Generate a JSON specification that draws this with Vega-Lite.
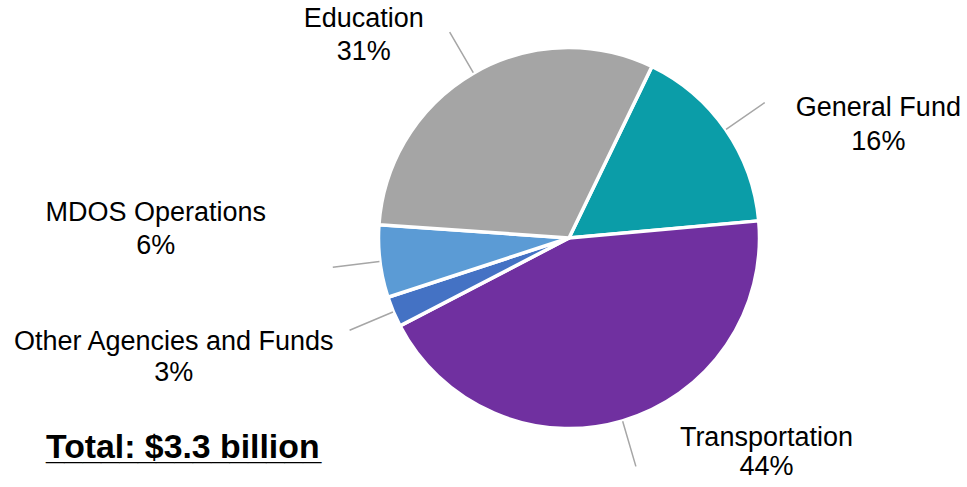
{
  "$schema": "https://vega.github.io/schema/vega-lite/v6.json",
  "width": 400,
  "height": 400,
  "autosize": {"type": "none"},
  "padding": {"left": 369, "top": 38, "right": 198, "bottom": 49},
  "background": "#ffffff",
  "config": {"view": {"stroke": null}},
  "title": {
    "text": "Total: $3.3 billion",
    "subtitle": "_______________",
    "orient": "bottom",
    "anchor": "start",
    "frame": "group",
    "font": "Liberation Sans",
    "fontSize": 33.8,
    "fontWeight": "bold",
    "color": "#000000",
    "subtitleFont": "Liberation Sans",
    "subtitleFontSize": 33,
    "subtitleFontWeight": "bold",
    "subtitleColor": "#000000",
    "subtitlePadding": -33.5,
    "baseline": "alphabetic",
    "offset": -65,
    "dx": -323
  },
  "data": {
    "values": [
      {"cat": "General Fund", "value": 0.164, "idx": 1},
      {"cat": "Transportation", "value": 0.438, "idx": 2},
      {"cat": "Other Agencies and Funds", "value": 0.026, "idx": 3},
      {"cat": "MDOS Operations", "value": 0.0615, "idx": 4},
      {"cat": "Education", "value": 0.3105, "idx": 5}
    ]
  },
  "encoding": {
    "theta": {"field": "value", "type": "quantitative", "stack": true, "scale": {"domain": [0, 1], "range": [0.4503, 6.7335]}},
    "order": {"field": "idx", "type": "quantitative", "sort": "ascending"}
  },
  "layer": [
    {
      "mark": {"type": "arc", "outerRadius": 190.5, "stroke": "#ffffff", "strokeWidth": 3.5},
      "encoding": {
        "color": {
          "field": "cat", "type": "nominal", "legend": null,
          "scale": {
            "domain": ["General Fund", "Transportation", "Other Agencies and Funds", "MDOS Operations", "Education"],
            "range": ["#0B9DA8", "#7030A0", "#4472C4", "#5B9BD5", "#A5A5A5"]
          }
        }
      }
    },
    {
      "mark": {"type": "arc", "innerRadius": 191, "outerRadius": 238, "padAngle": 3.1416, "fillOpacity": 0, "stroke": "#A6A6A6", "strokeWidth": 1.5}
    },
    {
      "mark": {"type": "text", "radius": 240, "dx": -85, "dy": -3, "align": "center", "baseline": "alphabetic", "font": "Liberation Sans", "fontSize": 27, "fill": "#000000"},
      "encoding": {"text": {"condition": {"test": "datum.cat === 'Education'", "field": "cat", "type": "nominal"}, "value": ""}}
    },
    {
      "mark": {"type": "text", "radius": 240, "dx": -85, "dy": 30, "align": "center", "baseline": "alphabetic", "font": "Liberation Sans", "fontSize": 27, "fill": "#000000"},
      "encoding": {"text": {"condition": {"test": "datum.cat === 'Education'", "field": "value", "type": "quantitative", "format": ".0%"}, "value": ""}}
    },
    {
      "mark": {"type": "text", "radius": 240, "dx": 112, "dy": 15, "align": "center", "baseline": "alphabetic", "font": "Liberation Sans", "fontSize": 27, "fill": "#000000"},
      "encoding": {"text": {"condition": {"test": "datum.cat === 'General Fund'", "field": "cat", "type": "nominal"}, "value": ""}}
    },
    {
      "mark": {"type": "text", "radius": 240, "dx": 112, "dy": 49, "align": "center", "baseline": "alphabetic", "font": "Liberation Sans", "fontSize": 27, "fill": "#000000"},
      "encoding": {"text": {"condition": {"test": "datum.cat === 'General Fund'", "field": "value", "type": "quantitative", "format": ".0%"}, "value": ""}}
    },
    {
      "mark": {"type": "text", "radius": 240, "dx": 130, "dy": -22, "align": "center", "baseline": "alphabetic", "font": "Liberation Sans", "fontSize": 27, "fill": "#000000"},
      "encoding": {"text": {"condition": {"test": "datum.cat === 'Transportation'", "field": "cat", "type": "nominal"}, "value": ""}}
    },
    {
      "mark": {"type": "text", "radius": 240, "dx": 130, "dy": 7, "align": "center", "baseline": "alphabetic", "font": "Liberation Sans", "fontSize": 27, "fill": "#000000"},
      "encoding": {"text": {"condition": {"test": "datum.cat === 'Transportation'", "field": "value", "type": "quantitative", "format": ".0%"}, "value": ""}}
    },
    {
      "mark": {"type": "text", "radius": 240, "dx": -174, "dy": 19, "align": "center", "baseline": "alphabetic", "font": "Liberation Sans", "fontSize": 27, "fill": "#000000"},
      "encoding": {"text": {"condition": {"test": "datum.cat === 'Other Agencies and Funds'", "field": "cat", "type": "nominal"}, "value": ""}}
    },
    {
      "mark": {"type": "text", "radius": 240, "dx": -174, "dy": 50, "align": "center", "baseline": "alphabetic", "font": "Liberation Sans", "fontSize": 27, "fill": "#000000"},
      "encoding": {"text": {"condition": {"test": "datum.cat === 'Other Agencies and Funds'", "field": "value", "type": "quantitative", "format": ".0%"}, "value": ""}}
    },
    {
      "mark": {"type": "text", "radius": 240, "dx": -175, "dy": -46, "align": "center", "baseline": "alphabetic", "font": "Liberation Sans", "fontSize": 27, "fill": "#000000"},
      "encoding": {"text": {"condition": {"test": "datum.cat === 'MDOS Operations'", "field": "cat", "type": "nominal"}, "value": ""}}
    },
    {
      "mark": {"type": "text", "radius": 240, "dx": -175, "dy": -13, "align": "center", "baseline": "alphabetic", "font": "Liberation Sans", "fontSize": 27, "fill": "#000000"},
      "encoding": {"text": {"condition": {"test": "datum.cat === 'MDOS Operations'", "field": "value", "type": "quantitative", "format": ".0%"}, "value": ""}}
    }
  ]
}
